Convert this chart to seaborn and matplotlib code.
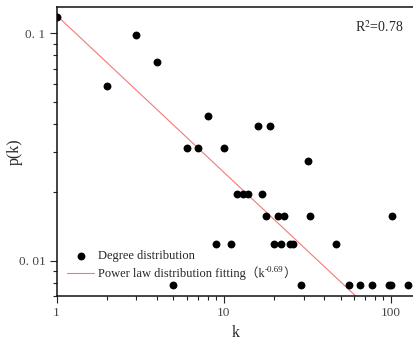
import numpy as np
import pandas as pd
import matplotlib
matplotlib.use("Agg")
import matplotlib.pyplot as plt
from matplotlib.ticker import NullFormatter, FixedLocator, FixedFormatter
import seaborn as sns

# Degree distribution: degree k and its probability p(k)
degree = [1, 2, 3, 4, 5, 6, 7, 8, 9, 10, 11, 12, 13, 14, 16, 17, 18, 19, 20,
          21, 22, 23, 25, 26, 29, 32, 33, 47, 56, 65, 77, 97, 100, 101, 127]
prob = [0.1176, 0.0588, 0.0980, 0.0745, 0.0078, 0.0314, 0.0314, 0.0431, 0.0118,
        0.0314, 0.0118, 0.0196, 0.0196, 0.0196, 0.0392, 0.0196, 0.0157, 0.0392,
        0.0118, 0.0157, 0.0118, 0.0157, 0.0118, 0.0118, 0.0078, 0.0275, 0.0157,
        0.0118, 0.0078, 0.0078, 0.0078, 0.0078, 0.0078, 0.0157, 0.0078]

# Power-law fit p(k) = A * k^alpha
fit_coef = 0.12
fit_alpha = -0.69
r_squared = 0.78

xticks = [1, 10, 100]
xtick_labels = ["1", "10", "100"]
yticks = [0.01, 0.1]
ytick_labels = ["0. 01", "0. 1"]

sns.set_style("ticks")
serif = ["Liberation Serif", "Noto Sans CJK SC"]
plt.rcParams["font.family"] = serif
plt.rcParams["mathtext.fontset"] = "stix"

df = pd.DataFrame({"k": degree, "p": prob})
k_fit = np.array([1.0, 139.0])
fit_df = pd.DataFrame({"k": k_fit, "p": fit_coef * k_fit ** fit_alpha})

W, H = 413, 343
fig = plt.figure(figsize=(W / 100, H / 100), dpi=100)
ax = fig.add_axes([56.5 / W, (H - 296) / H, (414.9 - 56.5) / W, (296 - 7.3) / H])

sns.scatterplot(data=df, x="k", y="p", ax=ax, color="black", s=32,
                edgecolor="black", linewidth=0, label="Degree distribution",
                zorder=3)
sns.lineplot(data=fit_df, x="k", y="p", ax=ax, color="#f27a7a", linewidth=0.8,
             label="Power law distribution fitting（k", zorder=2)

ax.set_xscale("log")
ax.set_yscale("log")
ax.set_xlim(1, 139)
ax.set_ylim(0.006995, 0.1301)

ax.xaxis.set_major_locator(FixedLocator(xticks))
ax.xaxis.set_major_formatter(FixedFormatter(xtick_labels))
ax.yaxis.set_major_locator(FixedLocator(yticks))
ax.yaxis.set_major_formatter(FixedFormatter(ytick_labels))
ax.xaxis.set_minor_formatter(NullFormatter())
ax.yaxis.set_minor_formatter(NullFormatter())

ax.tick_params(which="major", direction="out", length=5, width=0.8,
               labelsize=9.5, colors="#222222", labelcolor="#444444", pad=3)
ax.tick_params(which="minor", direction="out", length=3, width=0.8,
               colors="#222222")
ax.tick_params(top=False, right=False, which="both")

for side in ["left", "bottom", "top", "right"]:
    ax.spines[side].set_visible(True)
    ax.spines[side].set_linewidth(1.1)
    ax.spines[side].set_color("#111111")

ax.set_xlabel("k", fontsize=11.5, labelpad=4)
ax.set_ylabel("p(k)", fontsize=11.5, labelpad=-3)

ax.text(0.833, 0.932, r"R$^{2}$=0.78", transform=ax.transAxes,
        fontsize=10, ha="left", va="center")

leg = ax.legend(loc="upper left", bbox_to_anchor=(0.029, 0.16), frameon=False,
                prop={"family": serif, "size": 9}, handlelength=2.2,
                handletextpad=0.3, borderpad=0, borderaxespad=0,
                labelspacing=0.35, markerscale=1.0)

# exponent and closing bracket following the fit label
fit_text = leg.get_texts()[1]
sup = ax.annotate(f"{fit_alpha:.2f}", xy=(1, 0.42), xycoords=fit_text,
                  fontsize=6.5, ha="left", va="bottom", zorder=6,
                  annotation_clip=False)
ax.annotate("）", xy=(1, 0), xycoords=(sup, fit_text), fontsize=9,
            family=serif, ha="left", va="bottom", zorder=6,
            annotation_clip=False)

fig.canvas.draw()
fig.savefig("out.png", dpi=100)
